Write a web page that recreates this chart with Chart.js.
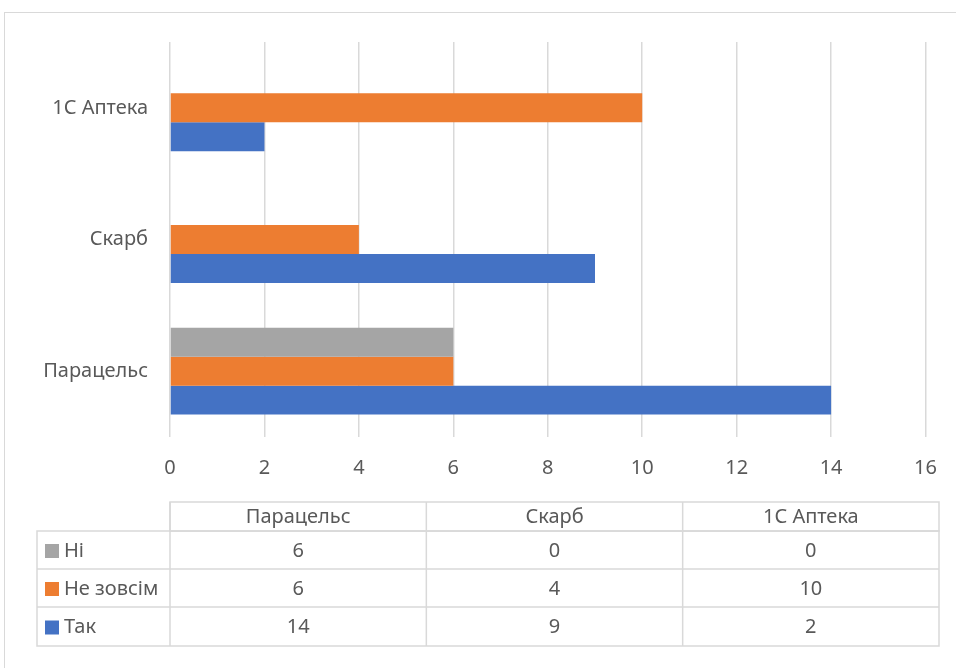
<!DOCTYPE html>
<html>
<head>
<meta charset="utf-8">
<script src="https://cdn.jsdelivr.net/npm/chart.js@4.4.0/dist/chart.umd.min.js"></script>
<style>
    html, body { margin: 0; padding: 0; background: #ffffff; }
    #wrap { position: relative; width: 956px; height: 668px; }
</style>
</head>
<body>
<div id="wrap"><canvas id="survey"></canvas></div>
<script>
const categories = ['Парацельс', 'Скарб', '1С Аптека'];
const seriesNames = ['Ні', 'Не зовсім', 'Так'];
const niValues = [6, 0, 0];
const neZovsimValues = [6, 4, 10];
const takValues = [14, 9, 2];
const seriesColors = ['#A5A5A5', '#ED7D31', '#4472C4'];

const textColor = '#595959';
const lineColor = '#D9D9D9';
const fontFamily = '"Noto Sans", "Open Sans", sans-serif';

// Excel-style data table under the plot, built from the chart's own datasets
const dataTable = {
    id: 'dataTable',
    beforeDraw(chart) {
        const ctx = chart.ctx;
        ctx.save();
        ctx.strokeStyle = lineColor;
        ctx.lineWidth = 1;
        ctx.strokeRect(4.5, 12.5, 1000, 700);
        ctx.restore();
    },
    afterDraw(chart) {
        const ctx = chart.ctx;
        const left = 37, firstCol = 170, right = 939;
        const rowEdges = [502, 531, 569, 607, 646];
        const colWidth = (right - firstCol) / categories.length;
        ctx.save();
        ctx.strokeStyle = lineColor;
        ctx.lineWidth = 1.5;
        // header row
        ctx.strokeRect(firstCol, rowEdges[0], right - firstCol, rowEdges[1] - rowEdges[0]);
        ctx.strokeRect(left, rowEdges[1], right - left, rowEdges[4] - rowEdges[1]);
        ctx.beginPath();
        for (let r = 2; r < 4; r++) {
            ctx.moveTo(left, rowEdges[r]);
            ctx.lineTo(right, rowEdges[r]);
        }
        for (let c = 0; c < categories.length; c++) {
            const x = firstCol + c * colWidth;
            ctx.moveTo(x, rowEdges[0]);
            ctx.lineTo(x, rowEdges[4]);
        }
        ctx.stroke();

        ctx.fillStyle = textColor;
        ctx.font = '20px ' + fontFamily;
        ctx.textAlign = 'center';
        ctx.textBaseline = 'middle';
        categories.forEach((cat, c) => {
            ctx.fillText(cat, firstCol + (c + 0.5) * colWidth, (rowEdges[0] + rowEdges[1]) / 2 + 1);
        });
        chart.data.datasets.forEach((ds, r) => {
            const cy = (rowEdges[r + 1] + rowEdges[r + 2]) / 2 + 1;
            ctx.fillStyle = ds.backgroundColor;
            ctx.fillRect(45, cy - 7, 14, 14);
            ctx.fillStyle = textColor;
            ctx.textAlign = 'left';
            ctx.fillText(ds.label, 64, cy);
            ctx.textAlign = 'center';
            ds.data.forEach((v, c) => {
                ctx.fillText(String(v), firstCol + (c + 0.5) * colWidth, cy);
            });
        });
        ctx.restore();
    }
};

const seriesValues = [niValues, neZovsimValues, takValues];

new Chart(document.getElementById('survey'), {
    type: 'bar',
    data: {
        labels: categories,
        datasets: seriesNames.map((name, i) => ({
            label: name,
            data: seriesValues[i],
            backgroundColor: seriesColors[i],
            borderWidth: 0,
            categoryPercentage: 0.66,
            barPercentage: 1
        }))
    },
    options: {
        indexAxis: 'y',
        responsive: true,
        maintainAspectRatio: false,
        animation: false,
        layout: {
            padding: { top: 42, right: 30, bottom: 181, left: 0 }
        },
        plugins: {
            legend: { display: false },
            tooltip: { enabled: false }
        },
        scales: {
            x: {
                min: 0,
                max: 16,
                ticks: {
                    stepSize: 2,
                    color: textColor,
                    padding: 19,
                    font: { family: fontFamily, size: 20 }
                },
                grid: { color: lineColor, lineWidth: 1.5, drawTicks: false },
                border: { display: false },
                afterFit(scale) { scale.height = 50; }
            },
            y: {
                reverse: true,
                ticks: {
                    color: textColor,
                    padding: 14,
                    font: { family: fontFamily, size: 20 }
                },
                grid: { display: false },
                border: { display: false },
                afterFit(scale) { scale.width = 170; }
            }
        }
    },
    plugins: [dataTable]
});
</script>
</body>
</html>
